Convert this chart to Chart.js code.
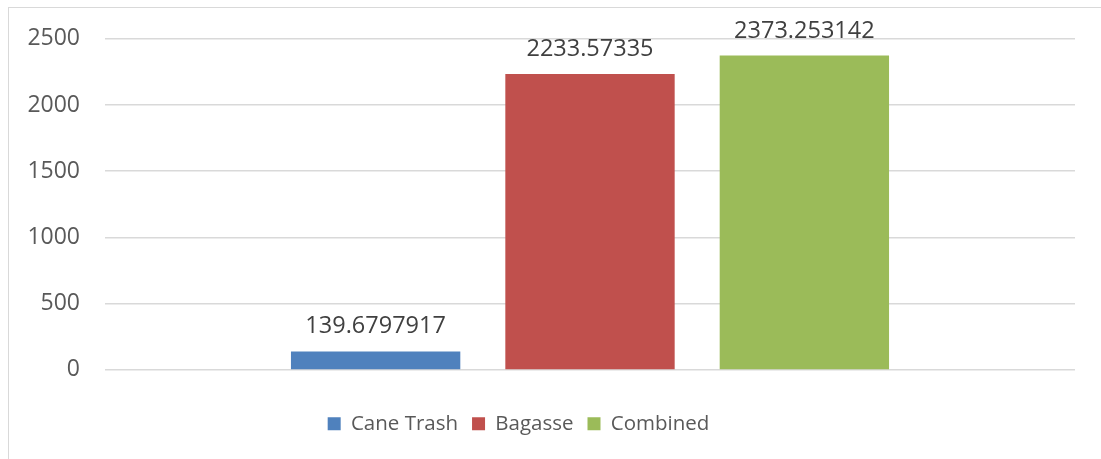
<!DOCTYPE html>
<html>
<head>
<meta charset="utf-8">
<script src="https://cdn.jsdelivr.net/npm/chart.js@4"></script>
<style>
  html, body { margin: 0; padding: 0; background: #fff; }
  #wrap { position: relative; width: 1101px; height: 459px; }
  #frame { position: absolute; left: 8px; top: 7px; right: -2px; bottom: -2px; border: 1px solid #d9d9d9; }
  canvas { position: absolute; left: 0; top: 0; }
</style>
</head>
<body>
<div id="wrap">
  <div id="frame"></div>
  <canvas id="chart" width="1101" height="459"></canvas>
</div>
<script>
// --- Chart data ---
const categories = [''];
const seriesNames = ['Cane Trash', 'Bagasse', 'Combined'];
const caneTrash = [139.6797917];
const bagasse = [2233.57335];
const combined = [2373.253142];
const valueLabels = ['139.6797917', '2233.57335', '2373.253142'];
const yTicks = [0, 500, 1000, 1500, 2000, 2500];

const colors = {
    blue: '#4f81bd',
    red: '#c0504d',
    green: '#9bbb59',
    text: '#595959',
    label: '#404040',
    grid: '#d9d9d9'
};

const fontFamily = "'Open Sans', 'Noto Sans', sans-serif";

// draws the numbers above each bar
const barLabels = {
    id: 'barLabels',
    afterDatasetsDraw(chart) {
        const ctx = chart.ctx;
        ctx.save();
        ctx.font = `23.5px ${fontFamily}`;
        ctx.fillStyle = colors.label;
        ctx.textAlign = 'center';
        ctx.textBaseline = 'alphabetic';
        chart.data.datasets.forEach((ds, i) => {
            chart.getDatasetMeta(i).data.forEach(bar => {
                ctx.fillText(valueLabels[i], bar.x, bar.y - 18);
            });
        });
        ctx.restore();
    }
};

// legend sits a bit left of centre in the original
const legendShift = {
    id: 'legendShift',
    afterLayout(chart) {
        chart.legend.left -= 19;
        chart.legend.right -= 19;
    }
};

new Chart(document.getElementById('chart'), {
    type: 'bar',
    data: {
        labels: categories,
        datasets: [
            { label: seriesNames[0], data: caneTrash, backgroundColor: colors.blue },
            { label: seriesNames[1], data: bagasse, backgroundColor: colors.red },
            { label: seriesNames[2], data: combined, backgroundColor: colors.green }
        ]
    },
    options: {
        responsive: false,
        animation: false,
        categoryPercentage: 0.663,
        barPercentage: 0.79,
        layout: { padding: { left: 0, right: 26, top: 36, bottom: 15 } },
        scales: {
            x: {
                grid: { display: false },
                border: { display: false },
                ticks: {
                    padding: 0,
                    color: 'rgba(0,0,0,0)',
                    font: { family: fontFamily, size: 18 },
                    callback: () => ' '
                }
            },
            y: {
                min: 0,
                max: 2500,
                afterBuildTicks: (scale) => { scale.ticks = yTicks.map(v => ({ value: v })); },
                afterFit: (scale) => { scale.width = 105; },
                border: { display: false },
                grid: { color: colors.grid, lineWidth: 1.5, drawTicks: false },
                ticks: {
                    padding: 25,
                    color: colors.text,
                    font: { family: fontFamily, size: 23 },
                    callback: (v) => String(v)
                }
            }
        },
        plugins: {
            legend: {
                position: 'bottom',
                labels: {
                    boxWidth: 13,
                    boxHeight: 13,
                    padding: 14,
                    color: colors.text,
                    font: { family: fontFamily, size: 20.5 }
                }
            },
            tooltip: { enabled: false }
        }
    },
    plugins: [barLabels, legendShift]
});
</script>
</body>
</html>
